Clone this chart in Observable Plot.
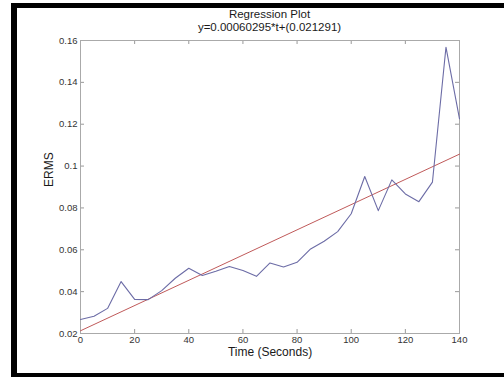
<!DOCTYPE html>
<html>
<head>
<meta charset="utf-8">
<script src="https://cdn.jsdelivr.net/npm/d3@7"></script>
<script src="https://cdn.jsdelivr.net/npm/@observablehq/plot@0.6"></script>
<style>
  html, body { margin: 0; padding: 0; overflow: hidden; width: 504px; height: 377px; background: #fff; font-family: "Liberation Sans", Arial, sans-serif; }
  .bar { position: absolute; background: #000; }
  #titles { position: absolute; left: 80px; top: 8px; width: 379px; text-align: center;
            font-size: 11.5px; line-height: 13px; color: #1a1a1a; }
  #chart { position: absolute; left: 0; top: 34px; }
</style>
</head>
<body>
<div class="bar" style="left:11px; top:3px; width:493px; height:5px;"></div>
<div class="bar" style="left:11px; top:3px; width:6px; height:374px;"></div>
<div class="bar" style="left:11px; top:373px; width:493px; height:4px;"></div>
<div id="titles"><div>Regression Plot</div><div>y=0.00060295*t+(0.021291)</div></div>
<div id="chart"></div>
<script>
const times = [0, 5, 10, 15, 20, 25, 30, 35, 40, 45, 50, 55, 60, 65, 70, 75, 80, 85, 90, 95, 100, 105, 110, 115, 120, 125, 130, 135, 140];
const ermsValues = [0.0267, 0.0282, 0.0320, 0.0448, 0.0363, 0.0362, 0.0405, 0.0464, 0.0512, 0.0477, 0.0497, 0.0520, 0.0501, 0.0473, 0.0537, 0.0518, 0.0540, 0.0604, 0.0641, 0.0687, 0.0772, 0.0950, 0.0787, 0.0934, 0.0867, 0.0830, 0.0923, 0.1568, 0.1226];
const fitTimes = [0, 140];
const fitValues = [0.0213, 0.1057];
const xTicks = [0, 20, 40, 60, 80, 100, 120, 140];
const yTicks = [0.02, 0.04, 0.06, 0.08, 0.10, 0.12, 0.14, 0.16];

const data = times.map((t, i) => ({t, v: ermsValues[i]}));
const fit = fitTimes.map((t, i) => ({t, v: fitValues[i]}));
const fmtY = d => String(+d.toFixed(2));

const plot = Plot.plot({
  width: 504,
  height: 343,
  marginLeft: 80,
  marginRight: 45,
  marginTop: 6,
  marginBottom: 44,
  style: { fontFamily: "'Liberation Sans', Arial, sans-serif", fontSize: "9.5px", color: "#333", background: "transparent", overflow: "visible" },
  x: { domain: [0, 140] },
  y: { domain: [0.02, 0.16] },
  marks: [
    Plot.axisX(xTicks, { tickSize: 0, tickPadding: 3, label: null, fill: "#333" }),
    Plot.axisY(yTicks, { tickSize: 0, tickPadding: 3, label: null, tickFormat: fmtY, fill: "#333" }),
    Plot.tickX(xTicks, { x: d => d, insetBottom: 289, stroke: "#999" }),
    Plot.tickX(xTicks, { x: d => d, insetTop: 289, stroke: "#999" }),
    Plot.tickY(yTicks, { y: d => d, insetRight: 375, stroke: "#999" }),
    Plot.tickY(yTicks, { y: d => d, insetLeft: 375, stroke: "#999" }),
    Plot.frame({ stroke: "#aaa" }),
    Plot.line(fit, { x: "t", y: "v", stroke: "#c05a5a", strokeWidth: 1 }),
    Plot.line(data, { x: "t", y: "v", stroke: "#6c6ca6", strokeWidth: 1.1 }),
    Plot.text(["Time (Seconds)"], { frameAnchor: "bottom", dy: 22, fontSize: 12, fill: "#1a1a1a" }),
    Plot.text(["ERMS"], { frameAnchor: "left", dx: -31, rotate: -90, fontSize: 12, fill: "#1a1a1a" })
  ]
});
document.getElementById("chart").appendChild(plot);
</script>
</body>
</html>
